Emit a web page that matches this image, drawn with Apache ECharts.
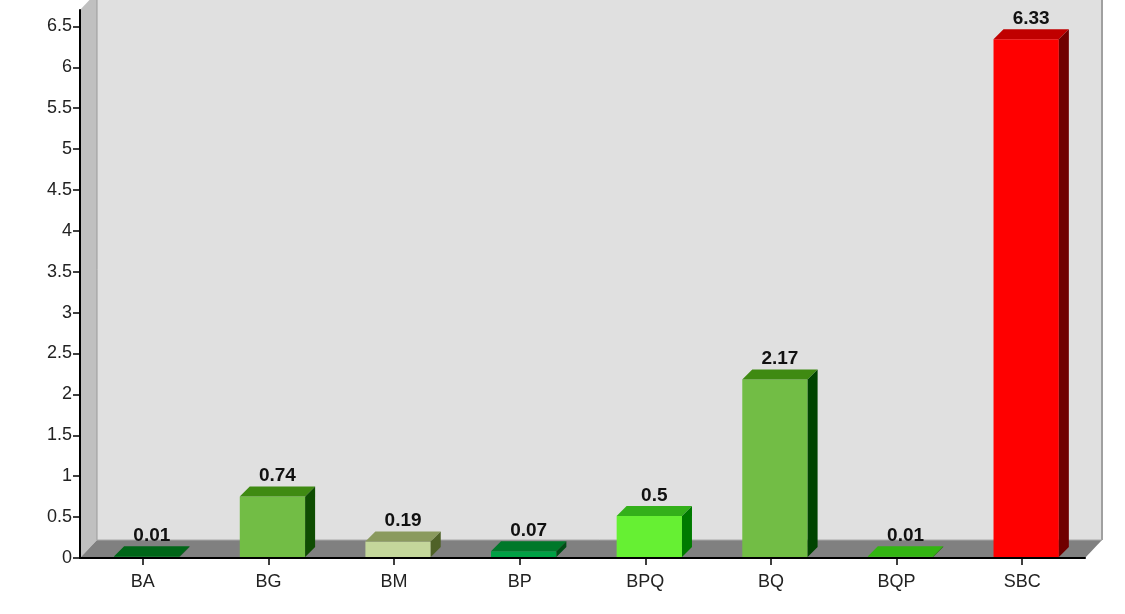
<!DOCTYPE html>
<html>
<head>
<meta charset="utf-8">
<script src="https://cdn.jsdelivr.net/npm/echarts@6/dist/echarts.min.js"></script>
<style>
  html, body { margin: 0; padding: 0; background: #ffffff; }
  #chart { width: 1125px; height: 614px; }
</style>
</head>
<body>
<div id="chart"></div>
<script>
const categories = ['BA', 'BG', 'BM', 'BP', 'BPQ', 'BQ', 'BQP', 'SBC'];
const values = [0.01, 0.74, 0.19, 0.07, 0.5, 2.17, 0.01, 6.33];
const yTicks = [0, 0.5, 1, 1.5, 2, 2.5, 3, 3.5, 4, 4.5, 5, 5.5, 6, 6.5];

const frontColors = ['#007a22', '#72bd45', '#c4d79b', '#00a145', '#66f033', '#72bd45', '#33c010', '#ff0000'];
const topColors   = ['#006618', '#3f8a12', '#8a9a5e', '#00782a', '#33b01a', '#3f8a12', '#33b512', '#c00000'];
const sideColors  = ['#004d12', '#0f4d02', '#4f6228', '#004d16', '#007a00', '#004400', '#1f7a00', '#700000'];

const WALL_DX = 17, WALL_DY = 18;
const BAR_DX = 10, BAR_DY = 10;
const FONT = '"Liberation Sans", Arial, sans-serif';

const chart = echarts.init(document.getElementById('chart'), null, { renderer: 'canvas' });

function renderWalls(params, api) {
  const cs = params.coordSys;
  const gx = cs.x, gy = cs.y, gw = cs.width, gh = cs.height;
  const by = gy + gh;
  return {
    type: 'group',
    children: [
      { type: 'rect', shape: { x: gx + WALL_DX, y: -50, width: gw, height: by - WALL_DY + 50 },
        style: { fill: '#e0e0e0', stroke: null } },
      { type: 'line', shape: { x1: gx + gw + WALL_DX, y1: -50, x2: gx + gw + WALL_DX, y2: by - WALL_DY },
        style: { stroke: '#a0a0a0', lineWidth: 2 } },
      { type: 'polygon', shape: { points: [[gx, by], [gx, gy], [gx + WALL_DX, gy - WALL_DY], [gx + WALL_DX, by - WALL_DY]] },
        style: { fill: '#c0c0c0', stroke: null } },
      { type: 'line', shape: { x1: gx + WALL_DX, y1: -50, x2: gx + WALL_DX, y2: by - WALL_DY },
        style: { stroke: '#9a9a9a', lineWidth: 1 } },
      { type: 'polygon', shape: { points: [[gx, by], [gx + WALL_DX, by - WALL_DY], [gx + gw + WALL_DX, by - WALL_DY], [gx + gw, by]] },
        style: { fill: '#808080', stroke: null } },
      { type: 'line', shape: { x1: gx + WALL_DX, y1: by - WALL_DY, x2: gx + gw + WALL_DX, y2: by - WALL_DY },
        style: { stroke: '#a8a8a8', lineWidth: 1 } }
    ]
  };
}

function renderBar(params, api) {
  const i = api.value(0);
  const v = api.value(1);
  const base = api.coord([i, 0]);
  const top = api.coord([i, v]);
  const band = api.size([1, 0])[0];
  const w = band * 0.52;
  const cx = base[0] + 4;
  const x0 = cx - w / 2, x1 = cx + w / 2;
  const by = base[1] - 1, ty = top[1] - 1;
  const idx = params.dataIndex;
  return {
    type: 'group',
    children: [
      { type: 'rect', shape: { x: x0, y: ty, width: w, height: Math.max(by - ty, 0.8) },
        style: { fill: frontColors[idx] } },
      { type: 'polygon', shape: { points: [[x0, ty], [x0 + BAR_DX, ty - BAR_DY], [x1 + BAR_DX, ty - BAR_DY], [x1, ty]] },
        style: { fill: topColors[idx] } },
      { type: 'polygon', shape: { points: [[x1, ty], [x1 + BAR_DX, ty - BAR_DY], [x1 + BAR_DX, by - BAR_DY], [x1, by]] },
        style: { fill: sideColors[idx] } },
      { type: 'text', x: cx + BAR_DX / 2, y: ty - BAR_DY - 1,
        style: { text: String(values[idx]), fill: '#111', font: 'bold 19px ' + FONT,
                 textAlign: 'center', textVerticalAlign: 'bottom' } }
    ]
  };
}

chart.setOption({
  animation: false,
  backgroundColor: '#ffffff',
  grid: { left: 80, right: 40, top: 10, bottom: 56, containLabel: false },
  xAxis: {
    type: 'category',
    data: categories,
    z: 10,
    axisLine: { show: true, lineStyle: { color: '#000', width: 2 } },
    axisTick: { show: true, alignWithLabel: true, length: 7, lineStyle: { color: '#000', width: 1.5 } },
    axisLabel: { color: '#222', fontSize: 18, fontFamily: FONT, margin: 15 },
    splitLine: { show: false }
  },
  yAxis: {
    type: 'value',
    min: 0,
    max: 6.7,
    interval: 0.5,
    z: 10,
    axisLine: { show: true, lineStyle: { color: '#000', width: 2 } },
    axisTick: { show: true, length: 7, customValues: yTicks, lineStyle: { color: '#000', width: 1.5 } },
    axisLabel: { color: '#222', fontSize: 18, fontFamily: FONT, margin: 8, customValues: yTicks },
    splitLine: { show: false }
  },
  series: [
    {
      type: 'custom',
      z: 0,
      silent: true,
      renderItem: renderWalls,
      data: [[0, 0]],
      encode: { x: 0, y: 1 },
      clip: false
    },
    {
      type: 'custom',
      z: 5,
      renderItem: renderBar,
      data: values.map((v, i) => [i, v]),
      encode: { x: 0, y: 1 },
      clip: false
    }
  ]
});
</script>
</body>
</html>
